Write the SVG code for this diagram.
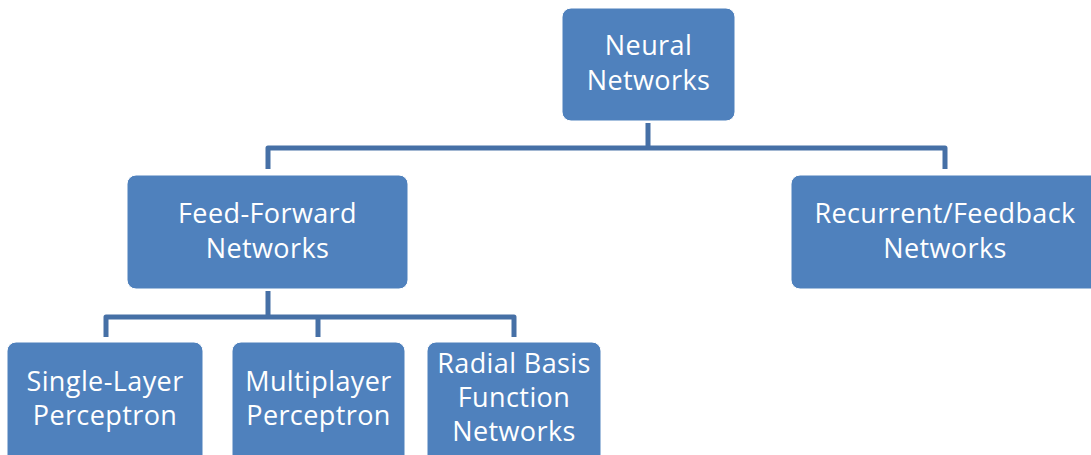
<svg xmlns="http://www.w3.org/2000/svg" width="1091" height="455" viewBox="0 0 1091 455">
<style>
.box{fill:#4F81BD;stroke:#ffffff;stroke-width:1}
.lbl{font-family:"Open Sans","Liberation Sans",sans-serif;font-size:27px;letter-spacing:0.4px;fill:#ffffff;text-anchor:middle}
.con{fill:none;stroke:#4670A6;stroke-width:5;stroke-linejoin:round}
</style>
<rect width="1091" height="455" fill="#ffffff"/>
<g id="connectors">
<path class="con" d="M648,123 V148 M268,169 V148 H945 V169"/>
<path class="con" d="M268,291 V317 M106,337 V317 H514 V337 M318,317 V337"/>
</g>
<g id="n-neural">
<rect class="box" x="562" y="8" width="173" height="113" rx="9"/>
<text class="lbl" x="648.5" y="55">Neural</text>
<text class="lbl" x="648.5" y="90">Networks</text>
</g>
<g id="n-ff">
<rect class="box" x="127" y="175" width="281" height="114" rx="9"/>
<text class="lbl" x="267.5" y="223">Feed-Forward</text>
<text class="lbl" x="267.5" y="258">Networks</text>
</g>
<g id="n-rec">
<rect class="box" x="791" y="175" width="310" height="114" rx="9"/>
<text class="lbl" x="945" y="223">Recurrent/Feedback</text>
<text class="lbl" x="945" y="258">Networks</text>
</g>
<g id="n-slp">
<rect class="box" x="7" y="342" width="196" height="122" rx="9"/>
<text class="lbl" x="105" y="391">Single-Layer</text>
<text class="lbl" x="105" y="425">Perceptron</text>
</g>
<g id="n-mlp">
<rect class="box" x="232" y="342" width="173" height="122" rx="9"/>
<text class="lbl" x="318.5" y="391">Multiplayer</text>
<text class="lbl" x="318.5" y="425">Perceptron</text>
</g>
<g id="n-rbf">
<rect class="box" x="427" y="342" width="174" height="122" rx="9"/>
<text class="lbl" x="514" y="373">Radial Basis</text>
<text class="lbl" x="514" y="407">Function</text>
<text class="lbl" x="514" y="441">Networks</text>
</g>
</svg>
